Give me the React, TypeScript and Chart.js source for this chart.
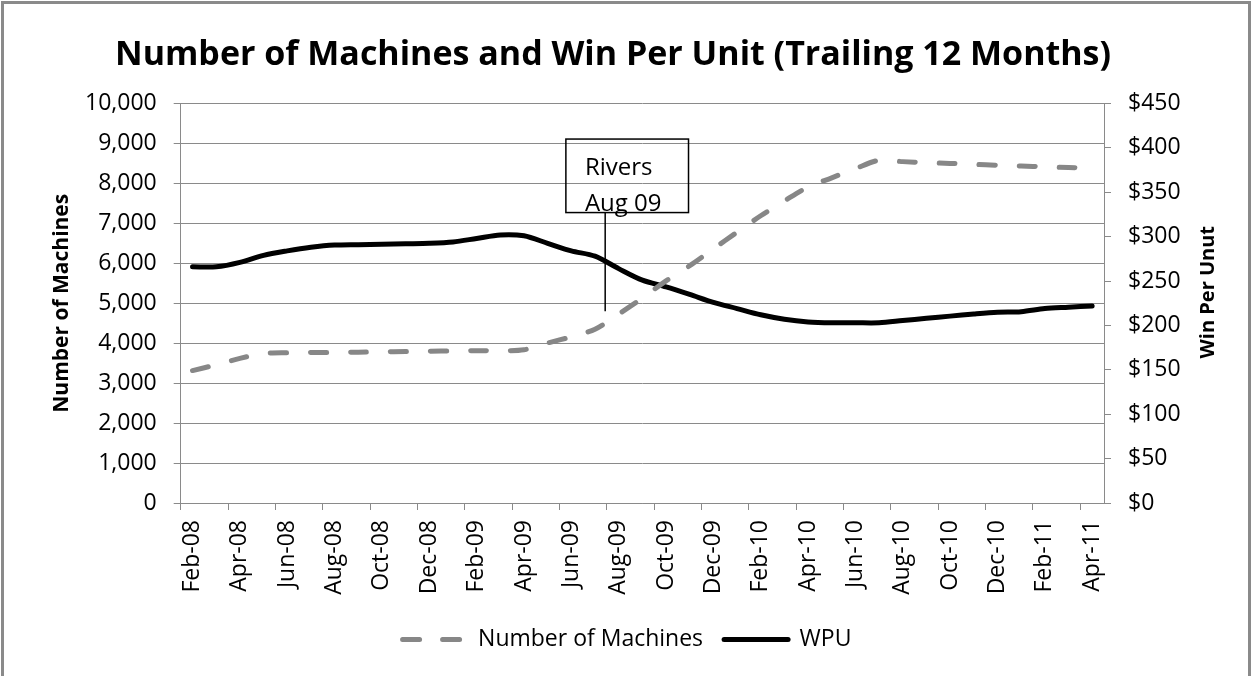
import React, { useEffect, useRef } from 'react';
import { Chart, registerables } from 'chart.js';

Chart.register(...registerables);

const MONTHS: string[] = [
  'Feb-08', 'Mar-08', 'Apr-08', 'May-08', 'Jun-08', 'Jul-08', 'Aug-08', 'Sep-08', 'Oct-08', 'Nov-08', 'Dec-08',
  'Jan-09', 'Feb-09', 'Mar-09', 'Apr-09', 'May-09', 'Jun-09', 'Jul-09', 'Aug-09', 'Sep-09', 'Oct-09', 'Nov-09', 'Dec-09',
  'Jan-10', 'Feb-10', 'Mar-10', 'Apr-10', 'May-10', 'Jun-10', 'Jul-10', 'Aug-10', 'Sep-10', 'Oct-10', 'Nov-10', 'Dec-10',
  'Jan-11', 'Feb-11', 'Mar-11', 'Apr-11',
];

const MACHINES: number[] = [
  3315, 3460, 3620, 3740, 3760, 3765, 3770, 3775, 3785, 3790, 3800,
  3805, 3810, 3810, 3835, 4005, 4160, 4350, 4730, 5130, 5560, 5940, 6360,
  6780, 7190, 7560, 7910, 8140, 8370, 8580, 8545, 8520, 8500, 8475, 8455,
  8435, 8415, 8395, 8380,
];

const WPU: number[] = [
  266, 266, 271, 279, 284, 288, 290.5, 291, 291.5, 292, 292.5,
  294, 298, 302, 301, 292.5, 284, 278, 264, 251, 243.5, 235, 226,
  219, 212, 207, 204, 203, 203, 203, 205.5, 208, 210.5, 213, 215,
  215.5, 219, 220.5, 222,
];

const MACHINE_AXIS = { min: 0, max: 10000, step: 1000 };
const WPU_AXIS = { min: 0, max: 450, step: 50 };

const TITLE = 'Number of Machines and Win Per Unit (Trailing 12 Months)';
const LEFT_TITLE = 'Number of Machines';
const RIGHT_TITLE = 'Win Per Unut';
const SERIES_NAMES = ['Number of Machines', 'WPU'];
const NOTE_LINES = ['Rivers', 'Aug 09'];
// annotation anchored in data units (category index / machines)
const NOTE_X = 17.43;
const NOTE_LINE_BOTTOM = 4800;
const NOTE_BOX = { left: 15.77, right: 20.95, top: 9110, bottom: 7270 };

const FONT = "'Open Sans', 'DejaVu Sans', sans-serif";
const GRID = '#8a8a8a';
const GRAY_LINE = '#878787';

const extrasPlugin = {
  id: 'extras',
  afterDatasetsDraw(chart: any) {
    const { ctx, scales } = chart;
    const x = scales.x;
    const y = scales.y;
    const bl = x.getPixelForValue(NOTE_BOX.left);
    const br = x.getPixelForValue(NOTE_BOX.right);
    const bt = y.getPixelForValue(NOTE_BOX.top);
    const bb = y.getPixelForValue(NOTE_BOX.bottom);
    const lx = x.getPixelForValue(NOTE_X);
    const ly = y.getPixelForValue(NOTE_LINE_BOTTOM);
    ctx.save();
    ctx.strokeStyle = '#000';
    ctx.lineWidth = 1.5;
    ctx.strokeRect(bl, bt, br - bl, bb - bt);
    ctx.beginPath();
    ctx.moveTo(lx, bb);
    ctx.lineTo(lx, ly);
    ctx.stroke();
    ctx.fillStyle = '#000';
    ctx.font = `24px ${FONT}`;
    ctx.textAlign = 'left';
    ctx.textBaseline = 'alphabetic';
    ctx.fillText(NOTE_LINES[0], bl + 19, bt + 36);
    ctx.fillText(NOTE_LINES[1], bl + 19, bt + 72);
    ctx.restore();
  },
  afterDraw(chart: any) {
    const { ctx, chartArea } = chart;
    ctx.save();
    ctx.fillStyle = '#000';
    ctx.textAlign = 'center';
    ctx.textBaseline = 'middle';
    ctx.font = `bold 34px ${FONT}`;
    ctx.fillText(TITLE, 613, 55);
    ctx.translate(chartArea.right + 104, (chartArea.top + chartArea.bottom) / 2 - 11);
    ctx.rotate(-Math.PI / 2);
    ctx.font = `bold 20px ${FONT}`;
    ctx.fillText(RIGHT_TITLE, 0, 0);
    ctx.restore();
  },
};

export default function App() {
  const canvasRef = useRef<HTMLCanvasElement | null>(null);

  useEffect(() => {
    if (!canvasRef.current) return;
    const chart = new Chart(canvasRef.current, {
      type: 'line',
      data: {
        labels: MONTHS,
        datasets: [
          {
            label: SERIES_NAMES[0],
            data: MACHINES,
            yAxisID: 'y',
            borderColor: GRAY_LINE,
            backgroundColor: GRAY_LINE,
            borderWidth: 5,
            borderDash: [16, 24],
            borderCapStyle: 'round',
            pointRadius: 0,
            tension: 0.3,
            fill: false,
          },
          {
            label: SERIES_NAMES[1],
            data: WPU,
            yAxisID: 'y1',
            borderColor: '#000',
            backgroundColor: '#000',
            borderWidth: 5,
            borderCapStyle: 'round',
            pointRadius: 0,
            tension: 0.3,
            fill: false,
          },
        ],
      },
      options: {
        responsive: false,
        animation: false,
        layout: { padding: { top: 103.5, left: 40, right: 41, bottom: 15 } },
        plugins: {
          title: { display: false },
          tooltip: { enabled: false },
          legend: {
            position: 'bottom',
            labels: {
              usePointStyle: true,
              pointStyleWidth: 64,
              boxHeight: 10,
              padding: 21,
              color: '#000',
              font: { family: FONT, size: 23 },
              generateLabels: () => [
                {
                  text: SERIES_NAMES[0],
                  strokeStyle: GRAY_LINE,
                  fillStyle: GRAY_LINE,
                  lineWidth: 5,
                  lineDash: [17, 23],
                  lineCap: 'round',
                  pointStyle: 'line',
                  datasetIndex: 0,
                  hidden: false,
                  fontColor: '#000',
                },
                {
                  text: SERIES_NAMES[1],
                  strokeStyle: '#000',
                  fillStyle: '#000',
                  lineWidth: 5,
                  lineDash: [],
                  lineCap: 'round',
                  pointStyle: 'line',
                  datasetIndex: 1,
                  hidden: false,
                  fontColor: '#000',
                },
              ],
            },
          },
        },
        scales: {
          x: {
            type: 'category',
            offset: true,
            grid: {
              offset: true,
              drawOnChartArea: false,
              drawTicks: true,
              tickLength: 7,
              color: (c: any) => (c.index !== undefined && c.index % 2 === 0 ? GRID : 'rgba(0,0,0,0)'),
            },
            border: { color: GRID, width: 1 },
            ticks: {
              autoSkip: false,
              maxRotation: 90,
              minRotation: 90,
              padding: 10,
              color: '#000',
              font: { family: FONT, size: 23 },
              callback: (_v: any, i: number) => (i % 2 === 0 ? MONTHS[i] : ''),
            },
            afterFit: (s: any) => { s.height = 104; },
          },
          y: {
            position: 'left',
            min: MACHINE_AXIS.min,
            max: MACHINE_AXIS.max,
            grid: { color: GRID, lineWidth: 1, drawTicks: true, tickLength: 7 },
            border: { color: GRID, width: 1 },
            ticks: {
              stepSize: MACHINE_AXIS.step,
              padding: 17,
              color: '#000',
              font: { family: FONT, size: 23 },
              callback: (v: any) => Number(v).toLocaleString('en-US'),
            },
            title: {
              display: true,
              text: LEFT_TITLE,
              color: '#000',
              font: { family: FONT, size: 21, weight: 'bold' },
              padding: { top: 9, bottom: 0 },
            },
            afterFit: (s: any) => { s.width = 140.7; },
          },
          y1: {
            position: 'right',
            min: WPU_AXIS.min,
            max: WPU_AXIS.max,
            grid: { drawOnChartArea: false, color: GRID, drawTicks: true, tickLength: 7 },
            border: { color: GRID, width: 1 },
            ticks: {
              stepSize: WPU_AXIS.step,
              padding: 17,
              color: '#000',
              font: { family: FONT, size: 23 },
              callback: (v: any) => '$' + v,
            },
            afterFit: (s: any) => { s.width = 110; },
          },
        },
      },
      plugins: [extrasPlugin],
    } as any);
    return () => chart.destroy();
  }, []);

  return (
    <div style={{ position: 'absolute', left: 0, top: 0, width: 1255, height: 676, overflow: 'hidden', background: '#fff' }}>
      <div
        style={{
          position: 'absolute',
          left: 1,
          top: 1,
          width: 1244,
          height: 700,
          border: '3px solid #8a8a8a',
        }}
      />
      <canvas
        ref={canvasRef}
        width={1255}
        height={676}
        style={{ position: 'absolute', left: 0, top: 0, width: 1255, height: 676 }}
      />
    </div>
  );
}
